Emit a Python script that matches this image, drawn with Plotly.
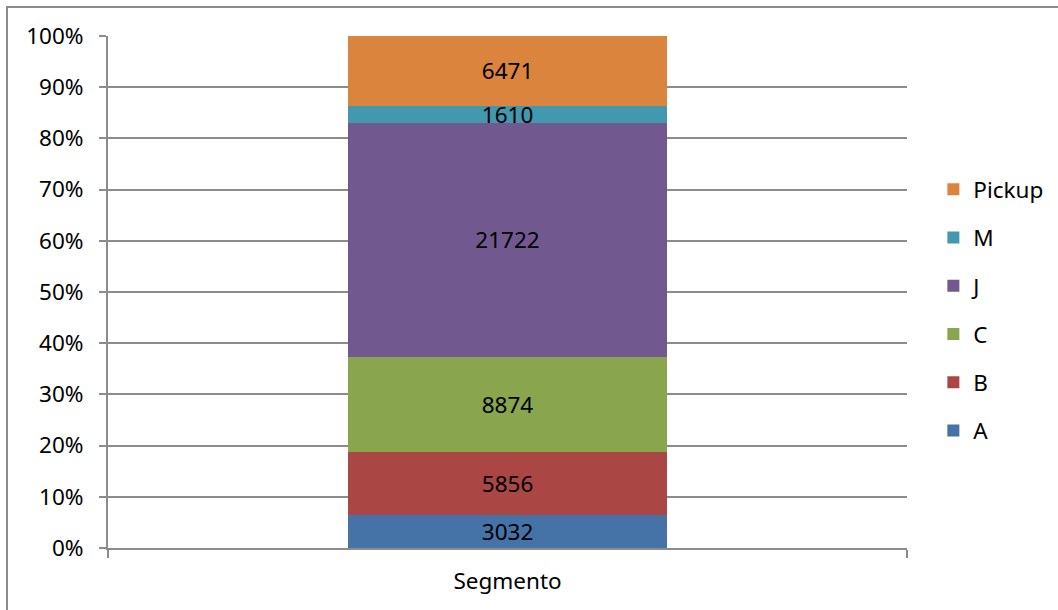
import plotly.graph_objects as go

# Vehicle counts per segment, stacked to 100%
category = ["Segmento"]
series_names = ["A", "B", "C", "J", "M", "Pickup"]
series_values = [3032, 5856, 8874, 21722, 1610, 6471]
series_colors = ["#4572A7", "#AA4643", "#89A54E", "#71588F", "#4198AF", "#DB843D"]

y_ticks = list(range(0, 101, 10))
y_tick_labels = [f"{t}%" for t in y_ticks]

FONT = "Noto Sans"
FS = 22.5
GRID = "#8c8c8c"

fig = go.Figure()
n = len(series_names)
for i, (name, val, color) in enumerate(zip(series_names, series_values, series_colors)):
    fig.add_trace(go.Bar(
        x=category,
        y=[val],
        name=name,
        legendgroup=name,
        legendrank=(n - i) * 10,  # top of the stack listed first
        marker=dict(color=color, line=dict(width=0)),
        text=[str(val)],
        textposition="inside",
        insidetextanchor="middle",
        textfont=dict(family=FONT, size=FS, color="#000000"),
        hoverinfo="name+y",
    ))

fig.update_layout(
    width=1058,
    height=610,
    barmode="stack",
    barnorm="percent",
    bargap=0.6,
    paper_bgcolor="#ffffff",
    plot_bgcolor="#ffffff",
    margin=dict(l=108, r=151, t=36, b=62, autoexpand=False),
    font=dict(family=FONT, size=FS, color="#000000"),
    uniformtext=dict(mode="show", minsize=FS),
    legend=dict(
        traceorder="grouped",
        tracegroupgap=16,
        x=1.033,
        xanchor="left",
        y=0.742,
        yanchor="top",
        font=dict(family=FONT, size=FS),
        itemwidth=30,
        bgcolor="rgba(0,0,0,0)",
    ),
    xaxis=dict(
        type="category",
        range=[-0.5, 0.5],
        tickson="boundaries",
        ticks="outside",
        ticklen=8,
        tickcolor=GRID,
        tickwidth=2,
        showline=True,
        linecolor=GRID,
        linewidth=2,
        showgrid=False,
        ticklabelstandoff=12,
        tickfont=dict(family=FONT, size=FS),
    ),
    yaxis=dict(
        range=[0, 100],
        tickvals=y_ticks,
        ticktext=y_tick_labels,
        ticks="outside",
        ticklen=7,
        tickcolor=GRID,
        tickwidth=2,
        showline=True,
        linecolor=GRID,
        linewidth=2,
        showgrid=True,
        gridcolor=GRID,
        gridwidth=2,
        zeroline=False,
        ticklabelstandoff=11,
        tickfont=dict(family=FONT, size=FS),
    ),
    shapes=[
        # chart frame, running past the right and bottom edges
        dict(
            type="rect",
            xref="paper", yref="paper",
            x0=(7 - 108) / 799, x1=(1080 - 108) / 799,
            y0=(548 - 630) / 512, y1=(548 - 7) / 512,
            line=dict(color="#8c8c8c", width=2),
            fillcolor="rgba(0,0,0,0)",
            layer="below",
        )
    ],
)

fig.write_html("out.html")
